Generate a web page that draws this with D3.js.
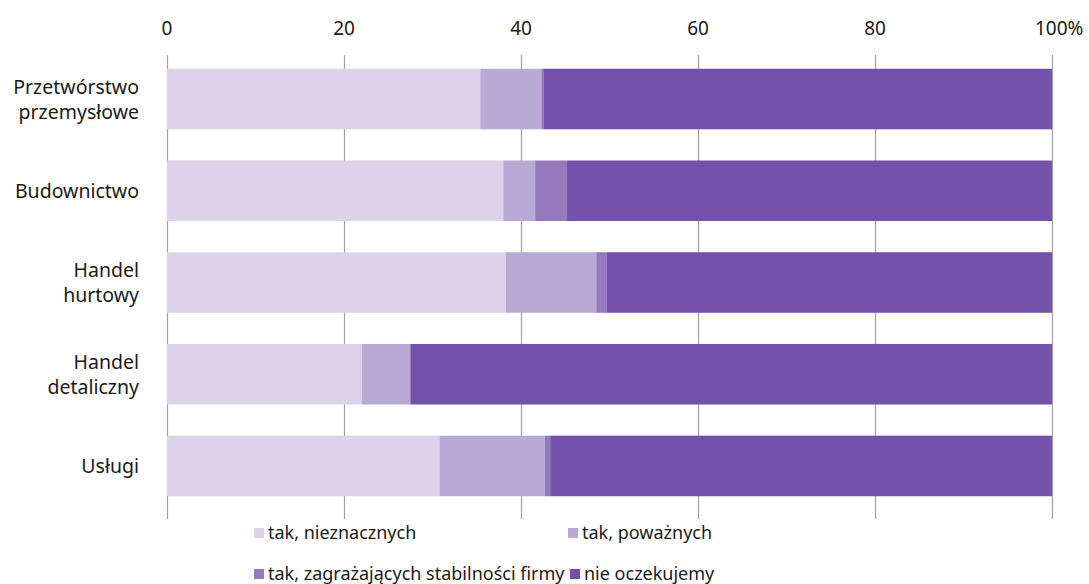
<!DOCTYPE html>
<html>
<head>
<meta charset="utf-8">
<script src="https://cdn.jsdelivr.net/npm/d3@7"></script>
<style>
  body { margin: 0; background: #fff; }
  text { font-family: "Noto Sans", sans-serif; fill: #1a1a1a; }
</style>
</head>
<body>
<svg id="chart" width="1089" height="584"></svg>
<script>
var categories = [['Przetwórstwo', 'przemysłowe'], ['Budownictwo'], ['Handel', 'hurtowy'], ['Handel', 'detaliczny'], ['Usługi']];
var seriesNames = ['tak, nieznacznych', 'tak, poważnych', 'tak, zagrażających stabilności firmy', 'nie oczekujemy'];
var nieznacznych = [35.4, 38.0, 38.3, 22.0, 30.8];
var powaznych = [6.9, 3.6, 10.2, 5.5, 11.9];
var zagrazajacych = [0.3, 3.6, 1.2, 0.0, 0.6];
var nieOczekujemy = [57.4, 54.8, 50.3, 72.5, 56.7];
var tickValues = [0, 20, 40, 60, 80, 100];
var colors = ['#dcd3ea', '#b8a9d5', '#957bbd', '#7551ab'];

var svg = d3.select('#chart');
var series = [nieznacznych, powaznych, zagrazajacych, nieOczekujemy];

var x = d3.scaleLinear().domain([0, 100]).range([167, 1052]);
var y = d3.scaleBand().domain(d3.range(categories.length)).range([55, 510]).paddingInner(0.34).paddingOuter(0.15);

// gridlines
svg.append('g')
  .selectAll('line')
  .data(tickValues)
  .join('line')
  .attr('x1', d => x(d) + 0.5)
  .attr('x2', d => x(d) + 0.5)
  .attr('y1', 55)
  .attr('y2', 519)
  .attr('stroke', '#a0a0a0')
  .attr('stroke-width', 1.2);

// tick labels
svg.append('g')
  .selectAll('text')
  .data(tickValues)
  .join('text')
  .attr('x', d => x(d))
  .attr('y', 35)
  .attr('text-anchor', d => d === 100 ? 'start' : 'middle')
  .attr('dx', d => d === 100 ? -17 : 0)
  .style('font-size', '19px')
  .text(d => d === 100 ? '100%' : d);

// stacked bars
categories.forEach(function(cat, i) {
  let start = 0;
  series.forEach(function(s, j) {
    svg.append('rect')
      .attr('x', x(start))
      .attr('y', y(i))
      .attr('width', x(start + s[i]) - x(start))
      .attr('height', y.bandwidth())
      .attr('fill', colors[j]);
    start += s[i];
  });

  // category label, right aligned, lines centred on the bar
  let lbl = svg.append('text')
    .attr('text-anchor', 'end')
    .style('font-size', '19.5px');
  let cy = y(i) + y.bandwidth() / 2;
  cat.forEach(function(line, k) {
    lbl.append('tspan')
      .attr('x', 139)
      .attr('y', cy + 7 + (k - (cat.length - 1) / 2) * 25)
      .text(line);
  });
});

// legend
var legendPos = [[254, 533], [568, 533], [254, 574], [570, 574]];
seriesNames.forEach(function(name, j) {
  svg.append('rect')
    .attr('x', legendPos[j][0])
    .attr('y', legendPos[j][1] - 5)
    .attr('width', 10)
    .attr('height', 10)
    .attr('fill', colors[j]);
  svg.append('text')
    .attr('x', legendPos[j][0] + 14)
    .attr('y', legendPos[j][1] + 6)
    .style('font-size', '18px')
    .text(name);
});
</script>
</body>
</html>
